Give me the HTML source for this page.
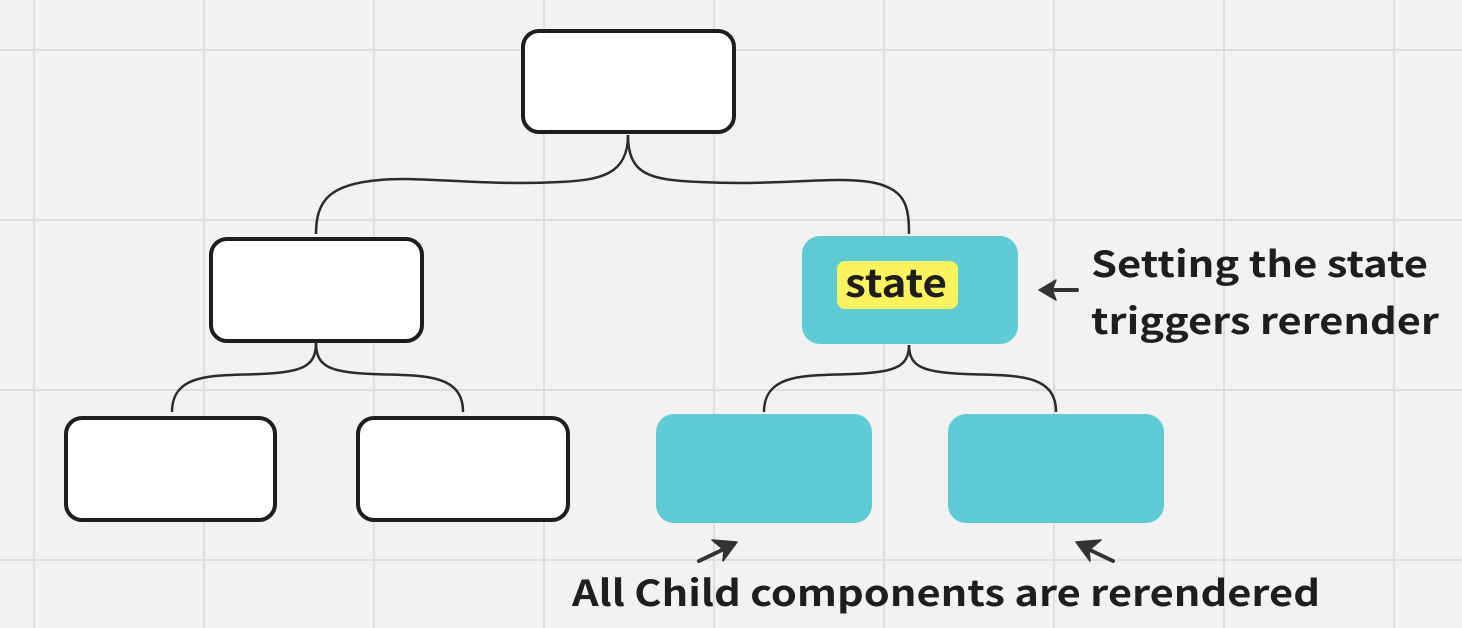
<!DOCTYPE html>
<html><head><meta charset="utf-8"><style>
body{margin:0;width:1462px;height:628px;overflow:hidden;background:#f2f2f2;font-family:"Noto Sans CJK JP","Liberation Sans",sans-serif;}
</style></head><body>
<svg width="1462" height="628" xmlns="http://www.w3.org/2000/svg" style="position:absolute;left:0;top:0">
<g stroke="#dedede" stroke-width="2">
<line x1="34" y1="0" x2="34" y2="628"/><line x1="204" y1="0" x2="204" y2="628"/><line x1="374" y1="0" x2="374" y2="628"/><line x1="544" y1="0" x2="544" y2="628"/><line x1="714" y1="0" x2="714" y2="628"/><line x1="884" y1="0" x2="884" y2="628"/><line x1="1054" y1="0" x2="1054" y2="628"/><line x1="1224" y1="0" x2="1224" y2="628"/><line x1="1394" y1="0" x2="1394" y2="628"/>
<line x1="0" y1="50" x2="1462" y2="50"/><line x1="0" y1="220" x2="1462" y2="220"/><line x1="0" y1="390" x2="1462" y2="390"/><line x1="0" y1="560" x2="1462" y2="560"/>
</g>
<g fill="none" stroke="#2b2b2b" stroke-width="2.5">
<path d="M628 135 C628 175 600 180 560 182 C480 186 420 176 380 180 C330 184 316 200 316 234"/>
<path d="M628 135 C628 175 650 180 700 182 C780 186 830 176 870 182 C905 188 909 205 909 234"/>
<path d="M316 343 C316 368 300 372 260 374 C215 376 172 372 172 412"/>
<path d="M316 343 C316 368 332 372 372 374 C420 376 463 372 463 412"/>
<path d="M909 345 C909 368 893 372 853 374 C808 376 764 372 764 412"/>
<path d="M909 345 C909 368 925 372 965 374 C1013 376 1056 372 1056 412"/>
</g>
<g fill="#fff" stroke="#1e1e1e" stroke-width="4">
<rect x="523" y="31" width="211" height="101" rx="16"/>
<rect x="211" y="239" width="211" height="102" rx="16"/>
<rect x="66" y="418" width="209" height="102" rx="16"/>
<rect x="358" y="418" width="210" height="102" rx="16"/>
</g>
<g fill="#5ecad3">
<rect x="802" y="236" width="216" height="108" rx="18"/>
<rect x="656" y="414" width="216" height="109" rx="18"/>
<rect x="948" y="414" width="216" height="109" rx="18"/>
</g>
<rect x="837" y="261" width="121" height="48" rx="8" fill="#fcf45e"/>
<text x="845" y="297" font-size="38" font-weight="bold" fill="#1e1e1e" textLength="102" lengthAdjust="spacingAndGlyphs" font-family="Noto Sans CJK JP, Liberation Sans, sans-serif">state</text>
<g stroke="#333" stroke-width="4" fill="none" stroke-linecap="round">
<line x1="1077" y1="290" x2="1052" y2="290"/>
<line x1="699" y1="561" x2="722" y2="550"/>
<line x1="1113" y1="561" x2="1090" y2="550"/>
</g>
<g fill="#333" stroke="#333" stroke-width="1.5" stroke-linejoin="round">
<polygon points="1039,290 1056,280 1052,290 1056,300"/>
<polygon points="712,540 737,542 723,561 724,550"/>
<polygon points="1101,540 1076,542 1090,561 1089,550"/>
</g>
<g font-size="36" font-weight="bold" fill="#1e1e1e" font-family="Noto Sans CJK JP, Liberation Sans, sans-serif">
<text x="1091" y="277" textLength="337" lengthAdjust="spacingAndGlyphs">Setting the state</text>
<text x="1091" y="334" textLength="348" lengthAdjust="spacingAndGlyphs">triggers rerender</text>
<text x="572" y="606" textLength="748" lengthAdjust="spacingAndGlyphs">All Child components are rerendered</text>
</g>
</svg>
</body></html>
